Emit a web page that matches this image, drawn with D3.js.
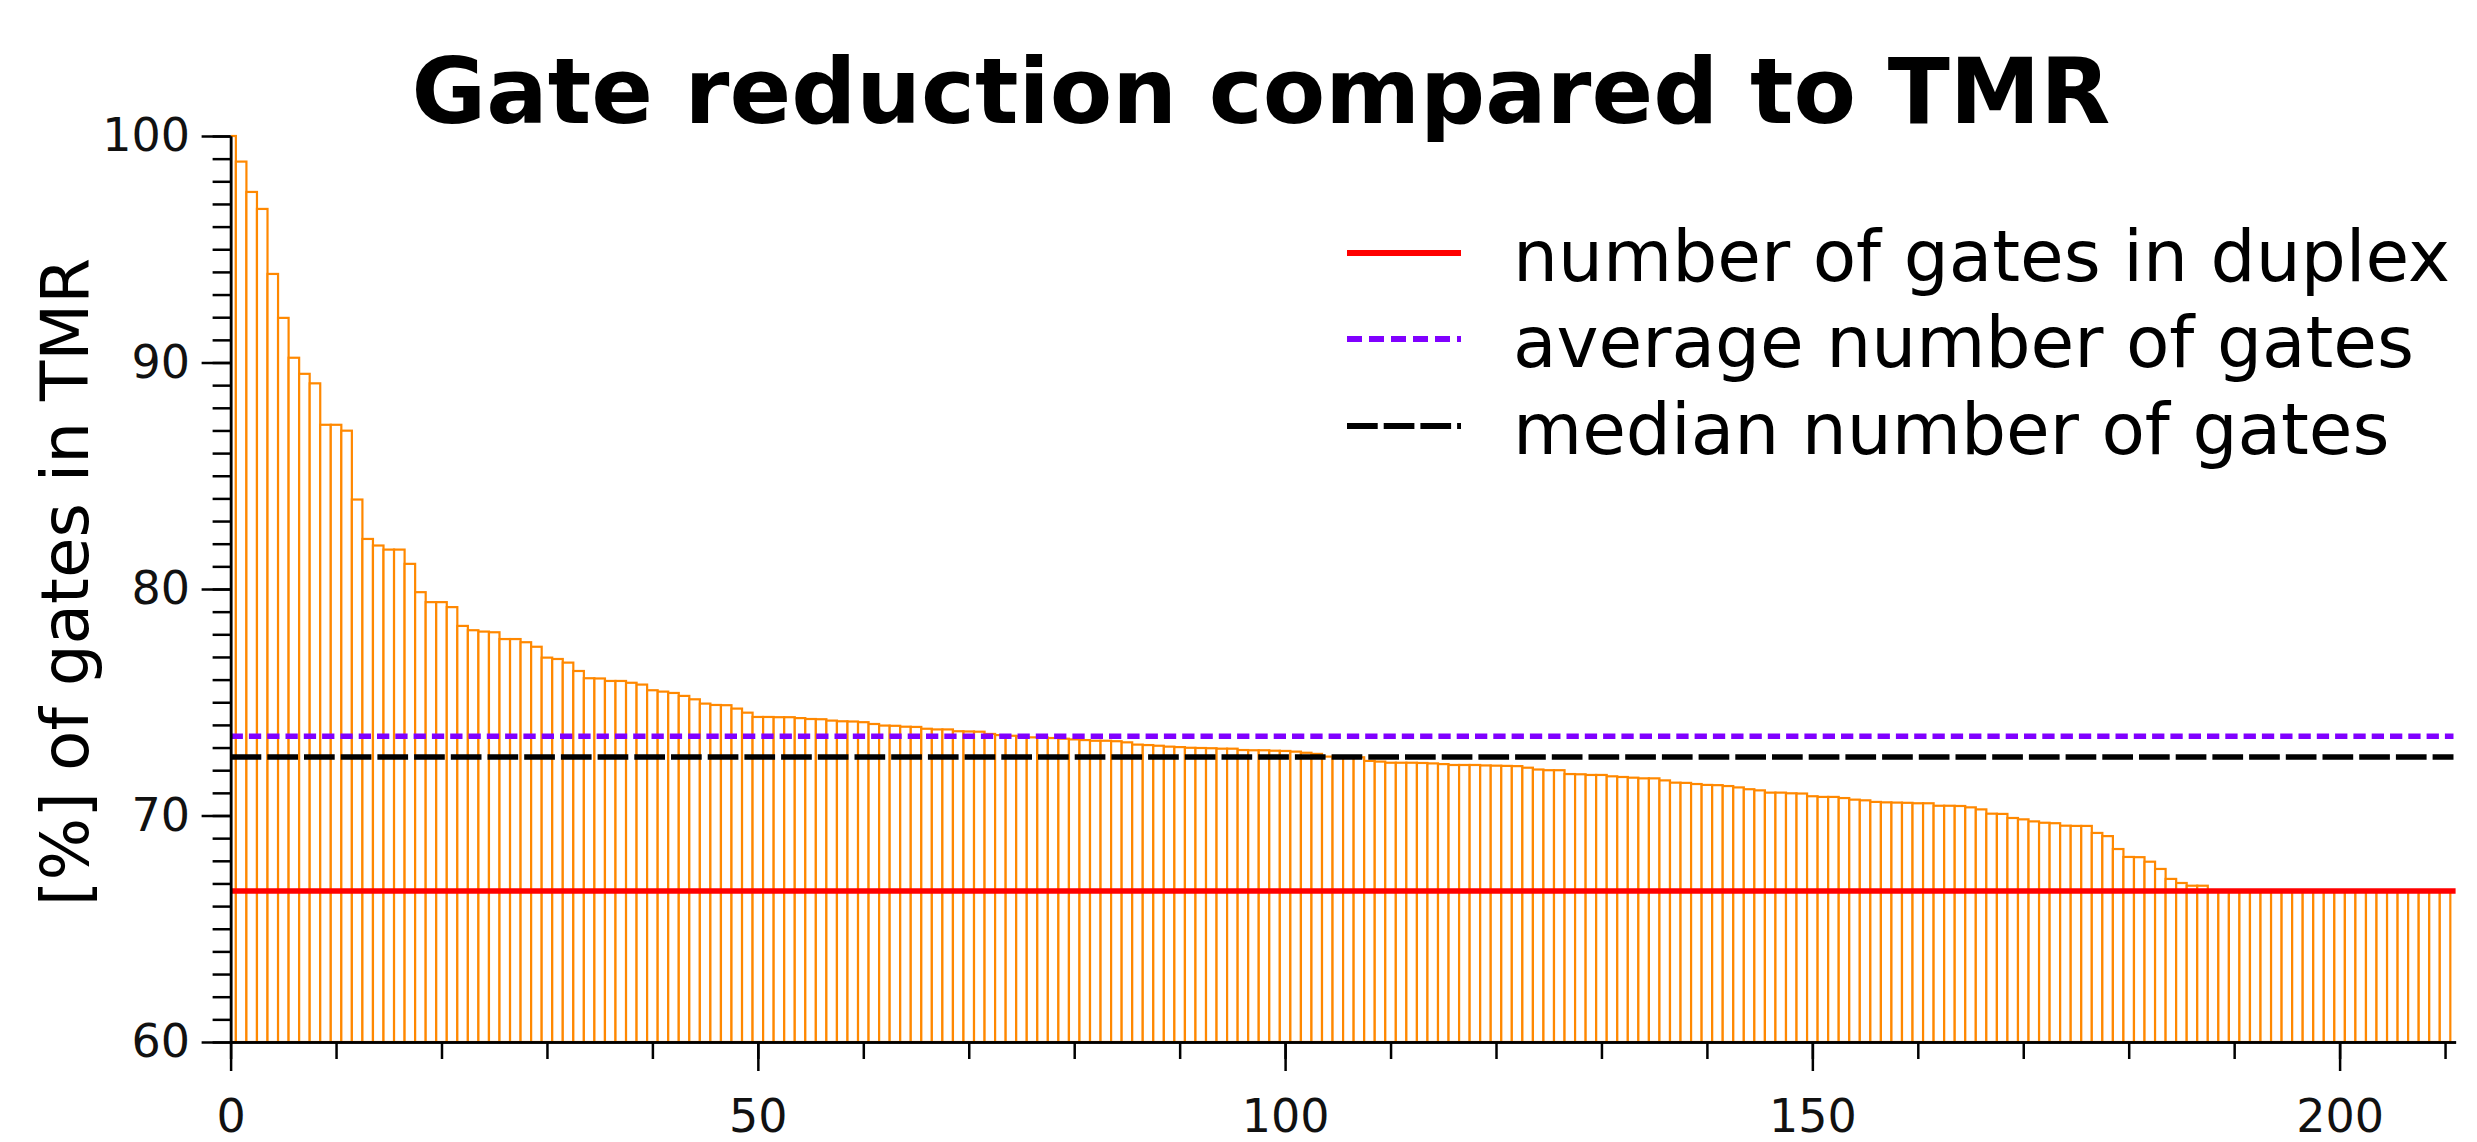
<!DOCTYPE html>
<html>
<head>
<meta charset="utf-8">
<script src="https://cdn.jsdelivr.net/npm/d3@7"></script>
<style>
  body { margin: 0; background: #fff; }
  svg { display: block; font-family: "DejaVu Sans", sans-serif; }
</style>
</head>
<body>
<div id="chart"></div>
<script>
// gate count of each circuit as [%] of its TMR version, sorted descending
var gateShare = [
  100, 98.87, 97.53, 96.78, 93.91, 91.97, 90.21, 89.50, 89.08, 87.25,
  87.25, 86.99, 83.95, 82.21, 81.92, 81.74, 81.74, 81.11, 79.86, 79.42,
  79.42, 79.20, 78.37, 78.18, 78.12, 78.09, 77.79, 77.79, 77.65, 77.45,
  76.97, 76.91, 76.75, 76.38, 76.06, 76.05, 75.94, 75.94, 75.86, 75.78,
  75.53, 75.47, 75.41, 75.28, 75.13, 74.94, 74.88, 74.87, 74.72, 74.54,
  74.35, 74.35, 74.34, 74.34, 74.30, 74.26, 74.25, 74.19, 74.16, 74.15,
  74.12, 74.04, 73.97, 73.96, 73.92, 73.91, 73.83, 73.80, 73.80, 73.72,
  73.71, 73.70, 73.60, 73.55, 73.52, 73.50, 73.45, 73.44, 73.42, 73.39,
  73.36, 73.33, 73.30, 73.30, 73.28, 73.23, 73.13, 73.11, 73.08, 73.04,
  73.02, 72.99, 72.98, 72.97, 72.95, 72.95, 72.89, 72.88, 72.88, 72.86,
  72.85, 72.82, 72.77, 72.72, 72.60, 72.59, 72.58, 72.57, 72.41, 72.38,
  72.33, 72.33, 72.33, 72.32, 72.30, 72.27, 72.23, 72.23, 72.23, 72.21,
  72.20, 72.19, 72.18, 72.11, 72.03, 72.00, 72.00, 71.83, 71.82, 71.79,
  71.79, 71.73, 71.70, 71.67, 71.64, 71.64, 71.55, 71.45, 71.44, 71.39,
  71.35, 71.34, 71.30, 71.24, 71.16, 71.11, 71.01, 71.01, 70.98, 70.97,
  70.85, 70.82, 70.82, 70.77, 70.70, 70.67, 70.60, 70.58, 70.57, 70.56,
  70.54, 70.54, 70.43, 70.43, 70.42, 70.36, 70.27, 70.08, 70.07, 69.89,
  69.83, 69.74, 69.68, 69.66, 69.55, 69.54, 69.54, 69.23, 69.09, 68.52,
  68.17, 68.16, 67.96, 67.64, 67.20, 67.02, 66.90, 66.90, 66.67, 66.67,
  66.67, 66.67, 66.67, 66.67, 66.67, 66.67, 66.67, 66.67, 66.67, 66.67,
  66.67, 66.67, 66.67, 66.67, 66.67, 66.67, 66.67, 66.67, 66.67, 66.67,
  66.67
];

var duplexLevel = 66.67;
var averageLevel = 73.50;
var medianLevel = 72.58;

var legendLabels = ["number of gates in duplex", "average number of gates", "median number of gates"];
var xTickLabels = [0, 50, 100, 150, 200];
var yTickLabels = [60, 70, 80, 90, 100];

var wd = 2477, ht = 1142;

var x = d3.scaleLinear().domain([0, 211]).range([230.6, 2455.6]);
var y = d3.scaleLinear().domain([60, 100]).range([1042, 136]);

var svg = d3.select('#chart')
	.append("svg")
	.attr("width", wd)
	.attr("height", ht);

svg.append("clipPath")
	.attr("id", "plotClip")
	.append("rect")
	.attr("x", x(0))
	.attr("y", y(100) - 10)
	.attr("width", x(211) - x(0))
	.attr("height", y(60) - y(100) + 20);

var plot = svg.append("g").attr("clip-path", "url(#plotClip)");

var barW = x(1) - x(0);

plot.selectAll('.bar')
	.data(gateShare)
	.enter()
	.append('rect')
	.attr('class', 'bar')
	.attr('x', function (d, i) { return x(i - 0.5); })
	.attr('y', function (d) { return y(d); })
	.attr('width', barW)
	.attr('height', function (d) { return y(60) - y(d); })
	.attr('fill', 'white')
	.attr('stroke', '#ff8800')
	.attr('stroke-width', 2.2);

// reference lines: style per legend entry
var lineStyles = [
	{ level: duplexLevel, color: '#ff0000', dash: null },
	{ level: averageLevel, color: '#8000ff', dash: '12.3,6' },
	{ level: medianLevel, color: '#000000', dash: '30.7,6' }
];

svg.selectAll('.refLine')
	.data(lineStyles)
	.enter()
	.append('line')
	.attr('class', 'refLine')
	.attr('x1', x(0))
	.attr('x2', function (d, i) { return i === 0 ? x(211) : x(210.8); })
	.attr('y1', function (d) { return y(d.level); })
	.attr('y2', function (d) { return y(d.level); })
	.attr('stroke', function (d) { return d.color; })
	.attr('stroke-width', 5.5)
	.attr('stroke-dasharray', function (d) { return d.dash; });

// axes
var yMinor = svg.append('g')
	.attr('transform', 'translate(' + x(0) + ',0)')
	.call(d3.axisLeft(y).tickValues(d3.range(60, 101, 1)).tickSize(18).tickSizeOuter(0).tickFormat(''));

var yMajor = svg.append('g')
	.attr('transform', 'translate(' + x(0) + ',0)')
	.call(d3.axisLeft(y).tickValues(yTickLabels).tickSize(29).tickSizeOuter(0).tickPadding(11.6));

var xMinor = svg.append('g')
	.attr('transform', 'translate(0,' + y(60) + ')')
	.call(d3.axisBottom(x).tickValues(d3.range(0, 211, 10)).tickSize(17).tickSizeOuter(0).tickFormat(''));

var xMajor = svg.append('g')
	.attr('transform', 'translate(0,' + y(60) + ')')
	.call(d3.axisBottom(x).tickValues(xTickLabels).tickSize(29).tickSizeOuter(0).tickPadding(28.6));

svg.selectAll('.domain').attr('stroke', '#000').attr('stroke-width', 2.5);
svg.selectAll('.tick line').attr('stroke', '#000').attr('stroke-width', 2.5);
svg.selectAll('.tick text')
	.attr('fill', '#111')
	.style('font-family', '"DejaVu Sans", sans-serif')
	.style('font-size', '46px');

// title
svg.append('text')
	.attr('x', 1261)
	.attr('y', 123)
	.attr('text-anchor', 'middle')
	.style('font-weight', 'bold')
	.style('font-size', '91px')
	.text('Gate reduction compared to TMR');

// y axis label
svg.append('text')
	.attr('transform', 'translate(88,582) rotate(-90)')
	.attr('text-anchor', 'middle')
	.style('font-size', '66px')
	.text('[%] of gates in TMR');

// legend
var legendY = [253, 339, 426];

var legend = svg.selectAll('.legendItem')
	.data(lineStyles)
	.enter()
	.append('g')
	.attr('class', 'legendItem');

legend.append('line')
	.attr('x1', 1347)
	.attr('x2', 1461)
	.attr('y1', function (d, i) { return legendY[i]; })
	.attr('y2', function (d, i) { return legendY[i]; })
	.attr('stroke', function (d) { return d.color; })
	.attr('stroke-width', 6)
	.attr('stroke-dasharray', function (d, i) { return i === 1 ? '15,7' : d.dash; });

legend.append('text')
	.attr('x', 1513)
	.attr('y', function (d, i) { return legendY[i] + 28; })
	.style('font-size', '71px')
	.text(function (d, i) { return legendLabels[i]; });
</script>
</body>
</html>
